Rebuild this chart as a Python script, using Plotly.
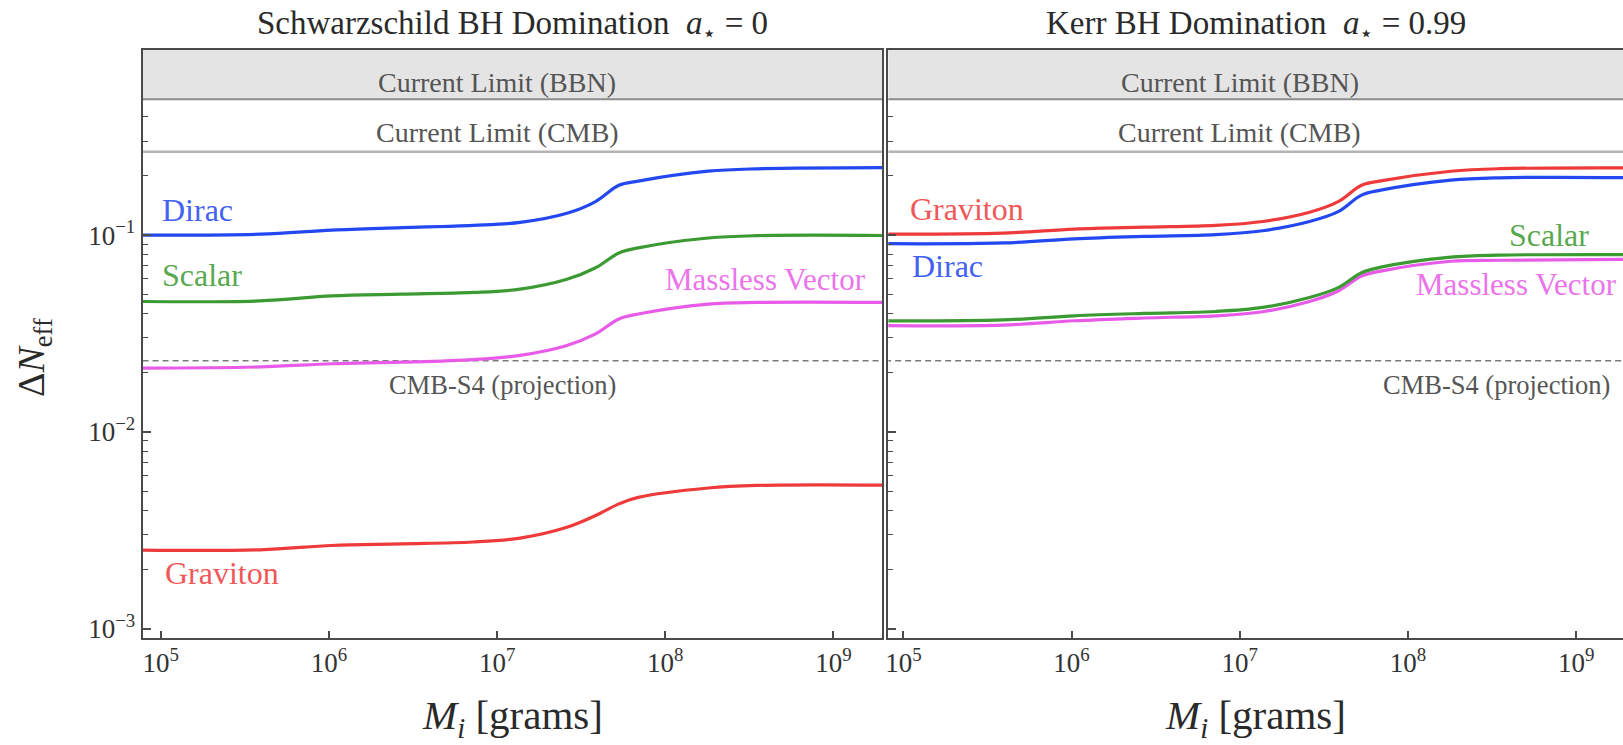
import numpy as np
import plotly.graph_objects as go

# ---------------------------------------------------------------------------
# Data: Delta N_eff from dark radiation emitted by evaporating primordial BHs
# ---------------------------------------------------------------------------
mass_grams = [7.5e4, 3.9e5, 1.04e6, 2.7e6, 7.2e6, 1.37e7, 2.6e7, 3.85e7,
              5.3e7, 6.9e7, 1.8e8, 3.5e8, 2.0e9]

# Schwarzschild (a* = 0)
schw_dirac = [0.100, 0.101, 0.106, 0.109, 0.112, 0.116, 0.129, 0.148,
              0.179, 0.188, 0.211, 0.217, 0.220]
schw_scalar = [0.0460, 0.0463, 0.0491, 0.0501, 0.0511, 0.0531, 0.0596, 0.0682,
               0.0811, 0.0861, 0.0966, 0.0993, 0.0995]
schw_vector = [0.0211, 0.0214, 0.0222, 0.0226, 0.0233, 0.0245, 0.0275, 0.0315,
               0.0375, 0.0397, 0.0446, 0.0455, 0.0455]
schw_graviton = [0.00251, 0.00252, 0.00265, 0.00270, 0.00276, 0.00289, 0.00328,
                 0.00376, 0.00431, 0.00465, 0.00519, 0.00535, 0.00537]

# Kerr (a* = 0.99)
kerr_graviton = [0.1012, 0.1023, 0.1072, 0.1096, 0.1119, 0.1172, 0.1306, 0.1479,
                 0.1791, 0.1884, 0.2109, 0.2173, 0.2193]
kerr_dirac = [0.0904, 0.0912, 0.0957, 0.0984, 0.1005, 0.1052, 0.1172, 0.1315,
              0.1596, 0.1690, 0.1901, 0.1954, 0.1959]
kerr_scalar = [0.0367, 0.0371, 0.0389, 0.0400, 0.0409, 0.0429, 0.0482, 0.0541,
               0.0644, 0.0687, 0.0773, 0.0791, 0.0796]
kerr_vector = [0.0347, 0.0349, 0.0367, 0.0379, 0.0389, 0.0408, 0.0460, 0.0520,
               0.0619, 0.0656, 0.0736, 0.0745, 0.0752]

# Observational limits on Delta N_eff
limit_bbn = 0.49
limit_cmb = 0.265
cmbs4_projection = 0.023

panel_titles = ["Schwarzschild BH Domination  <i>a</i><sub>⋆</sub> = 0",
                "Kerr BH Domination  <i>a</i><sub>⋆</sub> = 0.99"]

x_tick_vals = [1e5, 1e6, 1e7, 1e8, 1e9]
x_tick_text = ["10<sup>5</sup>", "10<sup>6</sup>", "10<sup>7</sup>",
               "10<sup>8</sup>", "10<sup>9</sup>"]
y_tick_vals = [1e-3, 1e-2, 1e-1]
y_tick_text = ["10<sup>−3</sup>", "10<sup>−2</sup>", "10<sup>−1</sup>"]

# ---------------------------------------------------------------------------
W, H = 1623, 745
FONT = "'Liberation Serif', 'Times New Roman', 'DejaVu Serif', serif"
AXC = "#4a4a4a"

C_DIRAC = "#2347f0"
C_SCALAR = "#3c9a32"
C_VECTOR = "#e85be8"
C_GRAV = "#ee3a3a"

X_LOG_MIN = 4.893
PX_PER_DEC = 168.5
left_px = (140, 881)
right_px = (887, W)
top_px, bot_px = 50, 643

def xdom(px0, px1):
    return [px0 / W, px1 / W]

def xrange_for(px0, px1, shift=0.0):
    lo = X_LOG_MIN + shift / PX_PER_DEC
    return [lo, lo + (px1 - px0) / PX_PER_DEC]

y_dom = [1 - bot_px / H, 1 - top_px / H]
y_range = [np.log10(9.0e-4), np.log10(0.875)]

minor_y = [k * 10.0 ** e for e in range(-4, 0) for k in range(2, 10)
           if k * 10.0 ** e < limit_bbn]

fig = go.Figure()

x_far = [1e4, 1e10]

def add_limits(xa, ya):
    # BBN excluded band
    fig.add_trace(go.Scatter(
        x=[x_far[0], x_far[1], x_far[1], x_far[0], x_far[0]],
        y=[limit_bbn, limit_bbn, 5, 5, limit_bbn],
        fill="toself", fillcolor="#e4e4e4", mode="lines",
        line=dict(color="#8c8c8c", width=2),
        xaxis=xa, yaxis=ya, hoverinfo="skip", showlegend=False))
    # CMB limit
    fig.add_trace(go.Scatter(
        x=x_far, y=[limit_cmb, limit_cmb], mode="lines",
        line=dict(color="#b4b4b4", width=2.5),
        xaxis=xa, yaxis=ya, hoverinfo="skip", showlegend=False))
    # CMB-S4 projection
    fig.add_trace(go.Scatter(
        x=x_far, y=[cmbs4_projection, cmbs4_projection], mode="lines",
        line=dict(color="#7a7a7a", width=1.5, dash="6px,4px"),
        xaxis=xa, yaxis=ya, hoverinfo="skip", showlegend=False))

def add_curve(vals, color, xa, ya, name):
    fig.add_trace(go.Scatter(
        x=mass_grams, y=vals, mode="lines", name=name,
        line=dict(color=color, width=3.2, shape="spline", smoothing=1.0),
        xaxis=xa, yaxis=ya, showlegend=False))

add_limits("x", "y")
add_limits("x2", "y2")

add_curve(schw_graviton, C_GRAV, "x", "y", "Graviton")
add_curve(schw_vector, C_VECTOR, "x", "y", "Massless Vector")
add_curve(schw_scalar, C_SCALAR, "x", "y", "Scalar")
add_curve(schw_dirac, C_DIRAC, "x", "y", "Dirac")

add_curve(kerr_vector, C_VECTOR, "x2", "y2", "Massless Vector")
add_curve(kerr_scalar, C_SCALAR, "x2", "y2", "Scalar")
add_curve(kerr_dirac, C_DIRAC, "x2", "y2", "Dirac")
add_curve(kerr_graviton, C_GRAV, "x2", "y2", "Graviton")

common_x = dict(type="log", showgrid=False, zeroline=False,
                showline=True, linecolor=AXC, linewidth=2, mirror=True,
                ticks="inside", ticklen=7, tickwidth=1.5, tickcolor=AXC,
                tickvals=x_tick_vals, ticktext=x_tick_text,
                tickfont=dict(family=FONT, size=27, color="#333"))
common_y = dict(type="log", showgrid=False, zeroline=False,
                showline=True, linecolor=AXC, linewidth=2,
                ticks="inside", ticklen=8, tickwidth=1.5, tickcolor=AXC,
                tickvals=y_tick_vals, ticktext=y_tick_text,
                tickfont=dict(family=FONT, size=27, color="#333"),
                minor=dict(tickmode="array", tickvals=minor_y, ticks="inside",
                           ticklen=5, tickwidth=1.2, tickcolor=AXC,
                           showgrid=False),
                domain=y_dom, range=y_range)

fig.update_layout(
    width=W, height=H, margin=dict(l=0, r=0, t=0, b=0),
    paper_bgcolor="white", plot_bgcolor="white",
    font=dict(family=FONT, color="#333"),
    xaxis=dict(common_x, domain=xdom(*left_px), range=xrange_for(*left_px),
               anchor="y"),
    yaxis=dict(common_y, anchor="x", mirror=True, showticklabels=True),
    xaxis2=dict(common_x, domain=xdom(*right_px),
                range=xrange_for(*right_px, shift=3.0), anchor="y2"),
    yaxis2=dict(common_y, anchor="x2", mirror=False, showticklabels=False),
)

ann = []

def label(text, xa, ya, mass, val, color, xanchor, size=32, opacity=0.85):
    ann.append(dict(text=text, xref=xa, yref=ya, x=np.log10(mass),
                    y=np.log10(val), xanchor=xanchor, yanchor="middle",
                    showarrow=False, opacity=opacity,
                    font=dict(family=FONT, size=size, color=color)))

# Limit captions
for xa, ya in (("x", "y"), ("x2", "y2")):
    label("Current Limit (BBN)", xa, ya, 1e7, 0.595, "#555", "center", size=28, opacity=1)
    label("Current Limit (CMB)", xa, ya, 1e7, 0.333, "#555", "center", size=28, opacity=1)
label("CMB-S4 (projection)", "x", "y", 1.07e7, 0.0174, "#555", "center", size=26.5, opacity=1)
label("CMB-S4 (projection)", "x2", "y2", 3.35e8, 0.0174, "#555", "center", size=26.5, opacity=1)

# Curve names, Schwarzschild panel
label("Dirac", "x", "y", 9.9e4, 0.1337, C_DIRAC, "left")
label("Scalar", "x", "y", 9.9e4, 0.0630, C_SCALAR, "left")
label("Massless Vector", "x", "y", 1.6e9, 0.0596, C_VECTOR, "right", size=31)
label("Graviton", "x", "y", 1.03e5, 0.00192, C_GRAV, "left")

# Curve names, Kerr panel
label("Graviton", "x2", "y2", 1.06e5, 0.1352, C_GRAV, "left")
label("Dirac", "x2", "y2", 1.1e5, 0.0698, C_DIRAC, "left")
label("Scalar", "x2", "y2", 1.23e9, 0.1005, C_SCALAR, "right")
label("Massless Vector", "x2", "y2", 1.8e9, 0.0562, C_VECTOR, "right", size=31)

# Panel titles
for xa, title in (("x", panel_titles[0]), ("x2", panel_titles[1])):
    ann.append(dict(text=title, xref=xa + " domain", yref="paper", x=0.5,
                    y=1 - 26 / H, xanchor="center", yanchor="middle",
                    showarrow=False,
                    font=dict(family=FONT, size=33, color="#2a2a2a")))

# Axis titles
for xa in ("x", "x2"):
    ann.append(dict(text="<i>M</i><sub><i>i</i></sub> [grams]", xref=xa + " domain",
                    yref="paper", x=0.5, y=1 - 724 / H, xanchor="center",
                    yanchor="middle", showarrow=False,
                    font=dict(family=FONT, size=41, color="#2a2a2a")))
ann.append(dict(text="Δ<i>N</i><sub>eff</sub>", xref="paper", yref="paper",
                x=31 / W, y=1 - 360 / H, xanchor="center", yanchor="middle",
                textangle=-90, showarrow=False,
                font=dict(family=FONT, size=38, color="#2a2a2a")))

fig.update_layout(annotations=ann)

fig.write_html("out.html")
